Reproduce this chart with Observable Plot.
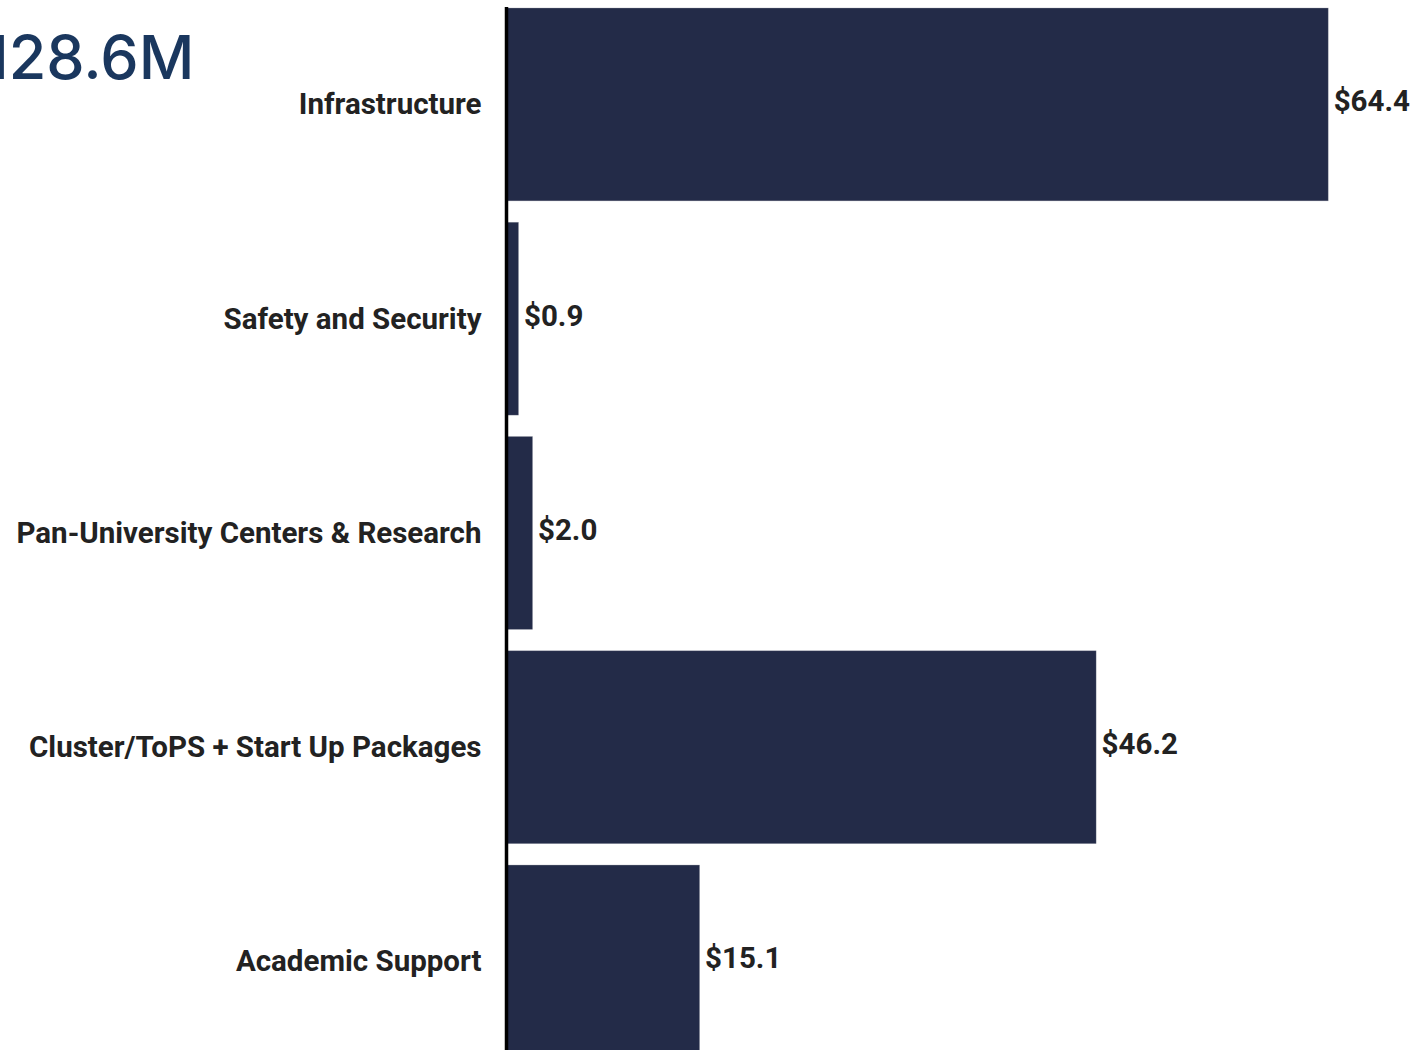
<!DOCTYPE html>
<html>
<head>
<meta charset="utf-8">
<script src="https://cdn.jsdelivr.net/npm/d3@7"></script>
<script src="https://cdn.jsdelivr.net/npm/@observablehq/plot@0.6"></script>
<style>
  html, body { margin: 0; padding: 0; background: #fff; overflow: hidden; }
  #wrap { position: relative; width: 1420px; height: 1050px; overflow: hidden; }
  #title { position: absolute; left: -56px; top: 27px; font-family: Inter, "Liberation Sans", sans-serif;
           font-weight: 500; font-size: 61px; color: #1A375E; line-height: 1; white-space: nowrap; z-index: 2; }
  #chart { position: absolute; left: 0; top: 0; }
</style>
</head>
<body>
<div id="wrap">
  <div id="title">$128.6M</div>
  <div id="chart"></div>
</div>
<script>
const categories = ["Infrastructure", "Safety and Security", "Pan-University Centers & Research", "Cluster/ToPS + Start Up Packages", "Academic Support"];
const values = [64.4, 0.9, 2.0, 46.2, 15.1];
const valueLabels = ["$64.4", "$0.9", "$2.0", "$46.2", "$15.1"];

const data = categories.map((c, i) => ({category: c, value: values[i], label: valueLabels[i]}));

const chart = Plot.plot({
  width: 1420,
  height: 1050,
  marginLeft: 507,
  marginRight: 0,
  marginTop: 7,
  marginBottom: 0,
  style: {background: "transparent", color: "#222", fontFamily: "Roboto, sans-serif"},
  x: {domain: [0, 71.6], axis: null},
  y: {domain: categories, range: [-13.4, 1079.3], padding: 0.1, round: false, label: null},
  marks: [
    Plot.barX(data, {x: "value", y: "category", fill: "#232B48", stroke: "#8a8d99", strokeWidth: 0.6, strokeOpacity: 0.5}),
    Plot.text(data, {x: "value", y: "category", text: "label", textAnchor: "start", dx: 5, dy: -3,
      fontSize: 29.5, fontWeight: "bold", fill: "#222", fontFamily: "Roboto, sans-serif"}),
    Plot.axisY({tickSize: 0, tickPadding: 26, fontSize: 29.5, fontWeight: "bold", label: null,
      fontFamily: "Roboto, sans-serif"}),
    Plot.ruleX([0], {stroke: "#000", strokeWidth: 3.5, dx: -1})
  ]
});
document.getElementById("chart").appendChild(chart);
</script>
</body>
</html>
